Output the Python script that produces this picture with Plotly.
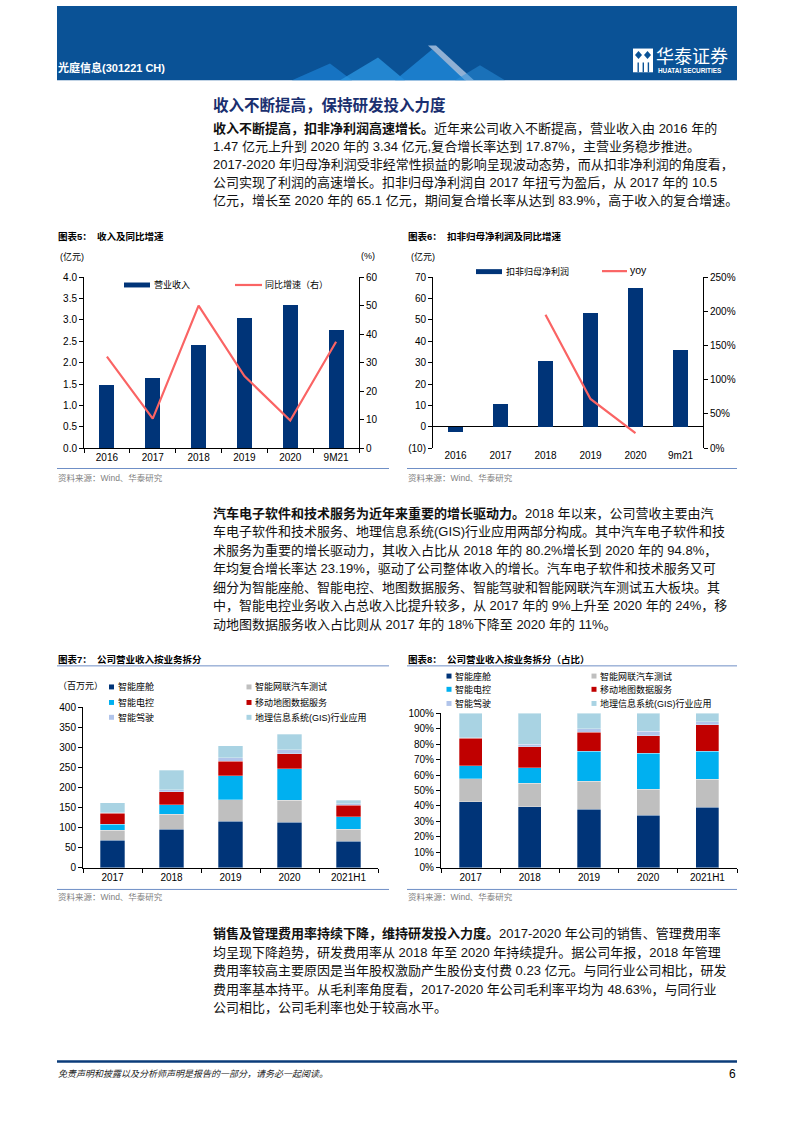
import plotly.graph_objects as go

W, H = 793, 1122
def px(x): return x / W
def py(y): return 1 - y / H

FONT = "Liberation Sans, Noto Sans CJK SC, sans-serif"

# ---------------- data ----------------
years5 = ['2016', '2017', '2018', '2019', '2020', '9M21']
revenue = [1.47, 1.63, 2.42, 3.05, 3.34, 2.77]          # 亿元
revenue_yoy = [32.1, 10.4, 50.0, 25.3, 9.7, 37.3]       # %

years6 = ['2016', '2017', '2018', '2019', '2020', '9m21']
np_deducted = [-2.3, 10.5, 30.9, 53.0, 65.1, 36.1]      # 亿元
np_yoy = [None, None, 1.95, 0.72, 0.22, None]           # ratio

years7 = ['2017', '2018', '2019', '2020', '2021H1']
seg_names = ['智能座舱', '智能网联汽车测试', '智能电控', '移动地图数据服务', '智能驾驶', '地理信息系统(GIS)行业应用']
cockpit = [69, 96, 116, 113, 66]
testing = [25, 37, 54, 55, 30]
control = [14, 24, 60, 79, 31]
mapdata = [28, 33, 36, 37, 29]
driving = [1, 4, 8, 10, 3]
gis = [25, 49, 30, 39, 9]

share_cockpit = [42.6, 39.4, 37.9, 34.0, 39.2]
share_testing = [15.0, 15.4, 18.2, 16.7, 18.0]
share_control = [8.6, 9.9, 19.5, 23.4, 18.2]
share_map = [17.7, 13.7, 12.0, 11.3, 17.1]
share_driving = [0.3, 1.7, 2.5, 3.0, 2.1]
share_gis = [15.8, 19.9, 9.9, 11.6, 5.4]

y6_ticks = list(range(-10, 80, 10))
y6_text = [f"({abs(v)})" if v < 0 else str(v) for v in y6_ticks]

# ---------------- styles ----------------
NAVY = '#003478'
RED_LINE = '#fa6464'
seg_colors = ['#003478', '#bfbfbf', '#00b0f0', '#c00000', '#b1c4ea', '#a9d3e3']
HEADER = '#0a5296'
RULE = '#6f8fc6'

fig = go.Figure()

# chart 5
fig.add_trace(go.Bar(x=years5, y=revenue, xaxis='x', yaxis='y', width=0.33,
                     marker=dict(color=NAVY, line=dict(width=0)), name='营业收入'))
fig.add_trace(go.Scatter(x=years5, y=revenue_yoy, xaxis='x', yaxis='y2', mode='lines',
                         line=dict(color=RED_LINE, width=2.2), name='同比增速（右）'))
# chart 6
fig.add_trace(go.Bar(x=years6, y=np_deducted, xaxis='x2', yaxis='y3', width=0.32,
                     marker=dict(color=NAVY, line=dict(width=0)), name='扣非归母净利润'))
fig.add_trace(go.Scatter(x=years6, y=np_yoy, xaxis='x2', yaxis='y4', mode='lines',
                         line=dict(color=RED_LINE, width=2.2), name='yoy'))
# chart 7
for name, vals, col in zip(seg_names, [cockpit, testing, control, mapdata, driving, gis], seg_colors):
    fig.add_trace(go.Bar(x=years7, y=vals, xaxis='x3', yaxis='y5', width=0.42, name=name,
                         marker=dict(color=col, line=dict(color='rgba(255,255,255,0.6)', width=0.5))))
# chart 8
for name, vals, col in zip(seg_names, [share_cockpit, share_testing, share_control, share_map, share_driving, share_gis], seg_colors):
    fig.add_trace(go.Bar(x=years7, y=vals, xaxis='x4', yaxis='y6', width=0.39, name=name,
                         marker=dict(color=col, line=dict(color='rgba(255,255,255,0.6)', width=0.5))))

tickfont = dict(family=FONT, size=10, color='#000')
def xax(d0, d1, anchor, line=True, ticks=True):
    return dict(domain=[px(d0), px(d1)], anchor=anchor, type='category',
                showline=line, linecolor='#000', linewidth=1,
                ticks='outside' if ticks else '', ticklen=4, tickcolor='#000',
                tickson='boundaries', tickfont=tickfont, showgrid=False, zeroline=False,
                fixedrange=True)
def yax(top, bottom, anchor, **kw):
    d = dict(domain=[py(bottom), py(top)], anchor=anchor, showline=True, linecolor='#000',
             linewidth=1, ticks='outside', ticklen=4, tickcolor='#000', tickfont=tickfont,
             showgrid=False, zeroline=False, fixedrange=True)
    d.update(kw)
    return d

layout = dict(
    width=W, height=H, margin=dict(l=0, r=0, t=0, b=0),
    paper_bgcolor='white', plot_bgcolor='rgba(0,0,0,0)',
    showlegend=False, barmode='stack', font=dict(family=FONT),
    xaxis=xax(84, 359, 'y'),
    yaxis=yax(274, 447, 'x', range=[0, 4], dtick=0.5, tickformat='.1f'),
    yaxis2=dict(overlaying='y', side='right', anchor='x', range=[0, 60], dtick=10,
                showline=True, linecolor='#000', linewidth=1, ticks='outside', ticklen=4,
                tickcolor='#000', tickfont=tickfont, showgrid=False, zeroline=False),
    xaxis2=xax(433, 703, 'y3', line=False, ticks=False),
    yaxis3=yax(274, 447, 'x2', range=[-10, 70], tickvals=y6_ticks, ticktext=y6_text,
               zeroline=True, zerolinecolor='#000', zerolinewidth=1),
    yaxis4=dict(overlaying='y3', side='right', anchor='x2', range=[0, 2.5], dtick=0.5,
                tickformat='.0%', showline=True, linecolor='#000', linewidth=1,
                ticks='outside', ticklen=4, tickcolor='#000', tickfont=tickfont,
                showgrid=False, zeroline=False),
    xaxis3=xax(83, 378, 'y5'),
    yaxis5=yax(709, 871, 'x3', range=[0, 400], dtick=50),
    xaxis4=xax(441, 737, 'y6'),
    yaxis6=yax(715, 871, 'x4', range=[0, 100], dtick=10, ticksuffix='%'),
)
fig.update_layout(**layout)

ann = []
def txt(x, y, s, size=12.5, color='#111111', anchor='left', family=FONT):
    ann.append(dict(x=px(x), y=py(y), xref='paper', yref='paper', text=s, showarrow=False,
                    xanchor=anchor, yanchor='middle', align='left', borderpad=0,
                    font=dict(family=family, size=size, color=color)))

shapes = []
def hline(x0, x1, y, color=RULE, width=1):
    shapes.append(dict(type='line', xref='paper', yref='paper', x0=px(x0), x1=px(x1),
                       y0=py(y), y1=py(y), line=dict(color=color, width=width)))
def rect(x0, y0, x1, y1, color):
    shapes.append(dict(type='rect', xref='paper', yref='paper', x0=px(x0), x1=px(x1),
                       y0=py(y1), y1=py(y0), fillcolor=color, line=dict(width=0)))
def poly(pts, color, opacity=1.0):
    path = 'M ' + ' L '.join(f'{px(a):.5f},{py(b):.5f}' for a, b in pts) + ' Z'
    shapes.append(dict(type='path', xref='paper', yref='paper', path=path,
                       fillcolor=color, line=dict(width=0), opacity=opacity))

# ---------------- header ----------------
rect(57, 0, 737, 75, HEADER)
poly([(292, 75), (330, 58), (352, 75)], '#1b7fd0', 0.75)
poly([(340, 75), (378, 52), (405, 75)], '#2c98e3', 0.75)
poly([(395, 75), (432, 44), (466, 75)], '#1f88d8', 0.8)
poly([(428, 40), (436, 40), (474, 75), (465, 75)], '#c9d9ee', 0.7)
poly([(455, 75), (480, 60), (505, 75)], '#2a90dc', 0.5)
txt(57, 62, '<b>光庭信息(301221 CH)</b>', size=11, color='white')
# logo emblem
rect(633, 43, 653, 67, 'white')
poly([(638.5, 45.5), (642, 49.5), (638.5, 53.5), (635, 49.5)], HEADER)
poly([(647.5, 45.5), (651, 49.5), (647.5, 53.5), (644, 49.5)], HEADER)
for xv in [637.5, 642.6, 647.7]:
    rect(xv, 57, xv + 1.4, 67, HEADER)
txt(655, 52, '华泰证券', size=18, color='white')
txt(657, 65.5, '<b>HUATAI SECURITIES</b>', size=6.4, color='white')

# ---------------- section title & paragraphs ----------------
txt(212, 100, '<b>收入不断提高，保持研发投入力度</b>', size=15.5, color='#1a2f6f')

BODY = 13
para1 = [
    '<b>收入不断提高，扣非净利润高速增长。</b>近年来公司收入不断提高，营业收入由 2016 年的',
    '1.47 亿元上升到 2020 年的 3.34 亿元,复合增长率达到 17.87%，主营业务稳步推进。',
    '2017-2020 年归母净利润受非经常性损益的影响呈现波动态势，而从扣非净利润的角度看，',
    '公司实现了利润的高速增长。扣非归母净利润自 2017 年扭亏为盈后，从 2017 年的 10.5',
    '亿元，增长至 2020 年的 65.1 亿元，期间复合增长率从达到 83.9%，高于收入的复合增速。',
]
for i, line in enumerate(para1):
    txt(212, 123.5 + 18.3 * i, line, size=BODY)

para2 = [
    '<b>汽车电子软件和技术服务为近年来重要的增长驱动力。</b>2018 年以来，公司营收主要由汽',
    '车电子软件和技术服务、地理信息系统(GIS)行业应用两部分构成。其中汽车电子软件和技',
    '术服务为重要的增长驱动力，其收入占比从 2018 年的 80.2%增长到 2020 年的 94.8%，',
    '年均复合增长率达 23.19%，驱动了公司整体收入的增长。汽车电子软件和技术服务又可',
    '细分为智能座舱、智能电控、地图数据服务、智能驾驶和智能网联汽车测试五大板块。其',
    '中，智能电控业务收入占总收入比提升较多，从 2017 年的 9%上升至 2020 年的 24%，移',
    '动地图数据服务收入占比则从 2017 年的 18%下降至 2020 年的 11%。',
]
for i, line in enumerate(para2):
    txt(212, 512.5 + 18.7 * i, line, size=BODY)

para3 = [
    '<b>销售及管理费用率持续下降，维持研发投入力度。</b>2017-2020 年公司的销售、管理费用率',
    '均呈现下降趋势，研发费用率从 2018 年至 2020 年持续提升。据公司年报，2018 年管理',
    '费用率较高主要原因是当年股权激励产生股份支付费 0.23 亿元。与同行业公司相比，研发',
    '费用率基本持平。从毛利率角度看，2017-2020 年公司毛利率平均为 48.63%，与同行业',
    '公司相比，公司毛利率也处于较高水平。',
]
for i, line in enumerate(para3):
    txt(212, 938 + 18.7 * i, line, size=BODY)

# ---------------- chart 5 decorations ----------------
txt(57, 233, '<b>图表5：  收入及同比增速</b>', size=9.5, color='#000')
txt(59, 253, '(亿元)', size=9, color='#000')
txt(360, 253, '(%)', size=9, color='#000')
rect(124, 279.5, 150, 284.5, NAVY)
txt(153, 282, '营业收入', size=9, color='#000')
hline(235, 262, 282, RED_LINE, 2.2)
txt(264, 282, '同比增速（右）', size=9, color='#000')
hline(57, 389, 467.5)
txt(57, 477, '资料来源：Wind、华泰研究', size=8.5, color='#808080')

# ---------------- chart 6 decorations ----------------
txt(407, 233, '<b>图表6：  扣非归母净利润及同比增速</b>', size=9.5, color='#000')
txt(410, 253, '(亿元)', size=9, color='#000')
rect(476, 266, 502, 271, NAVY)
txt(505, 268, '扣非归母净利润', size=9, color='#000')
hline(602, 627, 268, RED_LINE, 2.2)
txt(629, 267, 'yoy', size=10.5, color='#000')
hline(407, 737, 467.5)
txt(407, 477, '资料来源：Wind、华泰研究', size=8.5, color='#808080')

# ---------------- chart 7 decorations ----------------
txt(57, 661, '<b>图表7：  公司营业收入按业务拆分</b>', size=9.5, color='#000')
hline(57, 389, 667)
txt(57, 687, '（百万元）', size=9, color='#000')
rows7 = [688.3, 704, 719]
for i, (name, col) in enumerate(zip(seg_names, seg_colors)):
    r, c = divmod(i, 2)
    sx = 109 if c == 0 else 246.5
    tx = 117 if c == 0 else 254
    rect(sx, rows7[r] - 2.5, sx + 5, rows7[r] + 2.5, col)
    txt(tx, rows7[r], name, size=9, color='#000')
hline(57, 389, 893)
txt(57, 901, '资料来源：Wind、华泰研究', size=8.5, color='#808080')

# ---------------- chart 8 decorations ----------------
txt(407, 661, '<b>图表8：  公司营业收入按业务拆分（占比）</b>', size=9.5, color='#000')
hline(407, 737, 667)
rows8 = [677.3, 690.7, 705]
for i, (name, col) in enumerate(zip(seg_names, seg_colors)):
    r, c = divmod(i, 2)
    sx = 446.5 if c == 0 else 591.5
    tx = 454.5 if c == 0 else 598.5
    rect(sx, rows8[r] - 2.5, sx + 5, rows8[r] + 2.5, col)
    txt(tx, rows8[r], name, size=9, color='#000')
hline(407, 737, 893)
txt(407, 901, '资料来源：Wind、华泰研究', size=8.5, color='#808080')

# ---------------- footer ----------------
hline(57, 737, 1067, '#0b3c7a', 2.5)
txt(57, 1080, '<i>免责声明和披露以及分析师声明是报告的一部分，请务必一起阅读。</i>', size=9, color='#222')
txt(737, 1080, '6', size=12, color='#000', anchor='right')

fig.update_layout(annotations=ann, shapes=shapes)
fig.write_html('out.html', config={'displayModeBar': False, 'staticPlot': True},
               post_script="document.body.style.margin='0px';")
